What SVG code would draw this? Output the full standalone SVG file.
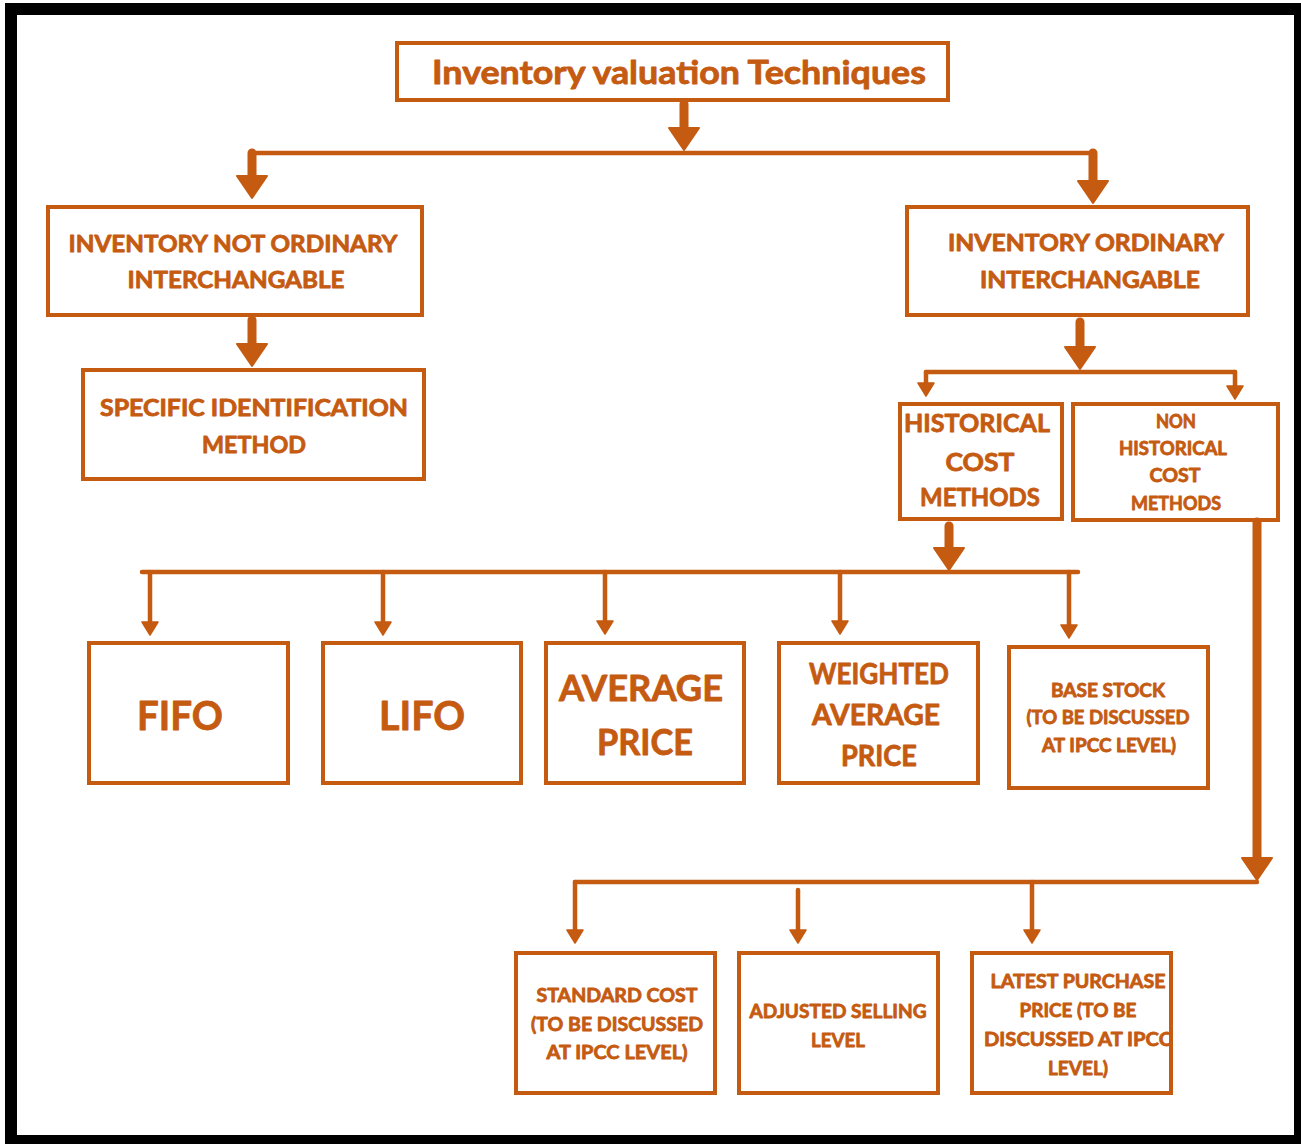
<svg xmlns="http://www.w3.org/2000/svg" width="1301" height="1144" viewBox="0 0 1301 1144">
<style>
.box{fill:none;stroke:#C55A11;stroke-width:4}
.t{fill:#C55A11;stroke:#C55A11;stroke-width:0.8;stroke-linejoin:round;font-family:"Lato","Open Sans","Liberation Sans",sans-serif;font-weight:700;text-anchor:middle}
.big{fill:none;stroke:#C55A11;stroke-width:9;stroke-linecap:round}
.sm{fill:none;stroke:#C55A11;stroke-width:4.5;stroke-linecap:round}
.ln{fill:none;stroke:#C55A11;stroke-width:4.5;stroke-linecap:round;stroke-linejoin:round}
</style>
<defs>
<marker id="hb" viewBox="0 -15 22 30" markerWidth="22" markerHeight="30" refX="0" refY="0" orient="auto" markerUnits="userSpaceOnUse" overflow="visible">
<path d="M0,-15 L22,0 L0,15 z" fill="#C55A11" stroke="#C55A11" stroke-width="2" stroke-linejoin="round"/>
</marker>
<marker id="hs" viewBox="0 -8 13 16" markerWidth="13" markerHeight="16" refX="0" refY="0" orient="auto" markerUnits="userSpaceOnUse" overflow="visible">
<path d="M0,-8 L13,0 L0,8 z" fill="#C55A11" stroke="#C55A11" stroke-width="1.5" stroke-linejoin="round"/>
</marker>
</defs>
<rect x="0" y="0" width="1301" height="1144" fill="#fff"/>
<rect x="5" y="3" width="1296" height="1141" fill="#000"/>
<rect x="17" y="15" width="1277" height="1120" fill="#fff"/>

<g id="connectors">
<path class="ln" d="M252,153 H1093"/>
<path class="big" d="M684,104 V128" marker-end="url(#hb)"/>
<path class="big" d="M252,153 V176" marker-end="url(#hb)"/>
<path class="big" d="M1093,153 V181" marker-end="url(#hb)"/>
<path class="big" d="M252,320 V344" marker-end="url(#hb)"/>
<path class="big" d="M1080,322 V347" marker-end="url(#hb)"/>
<path class="ln" d="M926,372 H1235"/>
<path class="sm" d="M926,372 V383" marker-end="url(#hs)"/>
<path class="sm" d="M1235,372 V386" marker-end="url(#hs)"/>
<path class="big" d="M949,526 V548" marker-end="url(#hb)"/>
<path class="ln" d="M142,572 H1078"/>
<path class="sm" d="M150,572 V622" marker-end="url(#hs)"/>
<path class="sm" d="M383,572 V622" marker-end="url(#hs)"/>
<path class="sm" d="M605,572 V621" marker-end="url(#hs)"/>
<path class="sm" d="M840,572 V621" marker-end="url(#hs)"/>
<path class="sm" d="M1069,572 V625" marker-end="url(#hs)"/>
<path class="big" d="M1257,522 V858" stroke-linecap="butt" marker-end="url(#hb)"/>
<path class="ln" d="M575,882 H1257"/>
<path class="sm" d="M575,882 V930" marker-end="url(#hs)"/>
<path class="sm" d="M798,890 V930" marker-end="url(#hs)"/>
<path class="sm" d="M1032,882 V930" marker-end="url(#hs)"/>
</g>

<g id="n-title">
<rect class="box" x="397" y="43" width="551" height="57"/>
<text class="t" x="679" y="84" font-size="32" textLength="494" lengthAdjust="spacingAndGlyphs">Inventory valuation Techniques</text>
</g>

<g id="n-not-ordinary">
<rect class="box" x="48" y="207" width="374" height="108"/>
<text class="t" x="233" y="252" font-size="23" textLength="329" lengthAdjust="spacingAndGlyphs">INVENTORY NOT ORDINARY</text>
<text class="t" x="236" y="288" font-size="23" textLength="217" lengthAdjust="spacingAndGlyphs">INTERCHANGABLE</text>
</g>

<g id="n-specific">
<rect class="box" x="83" y="370" width="341" height="109"/>
<text class="t" x="254" y="416" font-size="23" textLength="308" lengthAdjust="spacingAndGlyphs">SPECIFIC IDENTIFICATION</text>
<text class="t" x="254" y="453" font-size="23" textLength="104" lengthAdjust="spacingAndGlyphs">METHOD</text>
</g>

<g id="n-ordinary">
<rect class="box" x="907" y="207" width="341" height="108"/>
<text class="t" x="1086" y="251" font-size="23" textLength="276" lengthAdjust="spacingAndGlyphs">INVENTORY ORDINARY</text>
<text class="t" x="1090" y="288" font-size="23" textLength="220" lengthAdjust="spacingAndGlyphs">INTERCHANGABLE</text>
</g>

<g id="n-historical">
<rect class="box" x="900" y="404" width="162" height="115"/>
<text class="t" x="977" y="432" font-size="25" textLength="146" lengthAdjust="spacingAndGlyphs">HISTORICAL</text>
<text class="t" x="980" y="471" font-size="25" textLength="69" lengthAdjust="spacingAndGlyphs">COST</text>
<text class="t" x="980" y="506" font-size="25" textLength="120" lengthAdjust="spacingAndGlyphs">METHODS</text>
</g>

<g id="n-non-historical">
<rect class="box" x="1073" y="404" width="205" height="116"/>
<text class="t" x="1176" y="428" font-size="18" textLength="40" lengthAdjust="spacingAndGlyphs">NON</text>
<text class="t" x="1173" y="455" font-size="18" textLength="108" lengthAdjust="spacingAndGlyphs">HISTORICAL</text>
<text class="t" x="1175" y="482" font-size="18" textLength="51" lengthAdjust="spacingAndGlyphs">COST</text>
<text class="t" x="1176" y="510" font-size="18" textLength="90" lengthAdjust="spacingAndGlyphs">METHODS</text>
</g>

<g id="n-fifo">
<rect class="box" x="89" y="643" width="199" height="140"/>
<text class="t" x="180" y="730" font-size="40" textLength="86" lengthAdjust="spacingAndGlyphs">FIFO</text>
</g>

<g id="n-lifo">
<rect class="box" x="323" y="643" width="198" height="140"/>
<text class="t" x="422" y="730" font-size="40" textLength="86" lengthAdjust="spacingAndGlyphs">LIFO</text>
</g>

<g id="n-average">
<rect class="box" x="546" y="643" width="198" height="140"/>
<text class="t" x="641" y="701" font-size="36" textLength="164" lengthAdjust="spacingAndGlyphs">AVERAGE</text>
<text class="t" x="645" y="755" font-size="36" textLength="96" lengthAdjust="spacingAndGlyphs">PRICE</text>
</g>

<g id="n-weighted">
<rect class="box" x="779" y="643" width="199" height="140"/>
<text class="t" x="879" y="684" font-size="28" textLength="140" lengthAdjust="spacingAndGlyphs">WEIGHTED</text>
<text class="t" x="876" y="725" font-size="28" textLength="128" lengthAdjust="spacingAndGlyphs">AVERAGE</text>
<text class="t" x="879" y="766" font-size="28" textLength="76" lengthAdjust="spacingAndGlyphs">PRICE</text>
</g>

<g id="n-base-stock">
<rect class="box" x="1009" y="647" width="199" height="141"/>
<text class="t" x="1108" y="697" font-size="18" textLength="114" lengthAdjust="spacingAndGlyphs">BASE STOCK</text>
<text class="t" x="1108" y="724" font-size="18" textLength="163" lengthAdjust="spacingAndGlyphs">(TO BE DISCUSSED</text>
<text class="t" x="1109" y="752" font-size="18" textLength="134" lengthAdjust="spacingAndGlyphs">AT IPCC LEVEL)</text>
</g>

<g id="n-standard">
<rect class="box" x="516" y="953" width="199" height="140"/>
<text class="t" x="617" y="1002" font-size="19" textLength="161" lengthAdjust="spacingAndGlyphs">STANDARD COST</text>
<text class="t" x="617" y="1031" font-size="19" textLength="172" lengthAdjust="spacingAndGlyphs">(TO BE DISCUSSED</text>
<text class="t" x="617" y="1059" font-size="19" textLength="141" lengthAdjust="spacingAndGlyphs">AT IPCC LEVEL)</text>
</g>

<g id="n-adjusted">
<rect class="box" x="739" y="953" width="199" height="140"/>
<text class="t" x="838" y="1018" font-size="19" textLength="177" lengthAdjust="spacingAndGlyphs">ADJUSTED SELLING</text>
<text class="t" x="838" y="1047" font-size="19" textLength="54" lengthAdjust="spacingAndGlyphs">LEVEL</text>
</g>

<g id="n-latest">
<text class="t" x="1078" y="988" font-size="19" textLength="175" lengthAdjust="spacingAndGlyphs">LATEST PURCHASE</text>
<text class="t" x="1078" y="1017" font-size="19" textLength="117" lengthAdjust="spacingAndGlyphs">PRICE (TO BE</text>
<text class="t" x="1078" y="1046" font-size="19" textLength="188" lengthAdjust="spacingAndGlyphs">DISCUSSED AT IPCC</text>
<text class="t" x="1078" y="1075" font-size="19" textLength="60" lengthAdjust="spacingAndGlyphs">LEVEL)</text>
<rect class="box" x="972" y="953" width="199" height="140"/>
</g>
</svg>
